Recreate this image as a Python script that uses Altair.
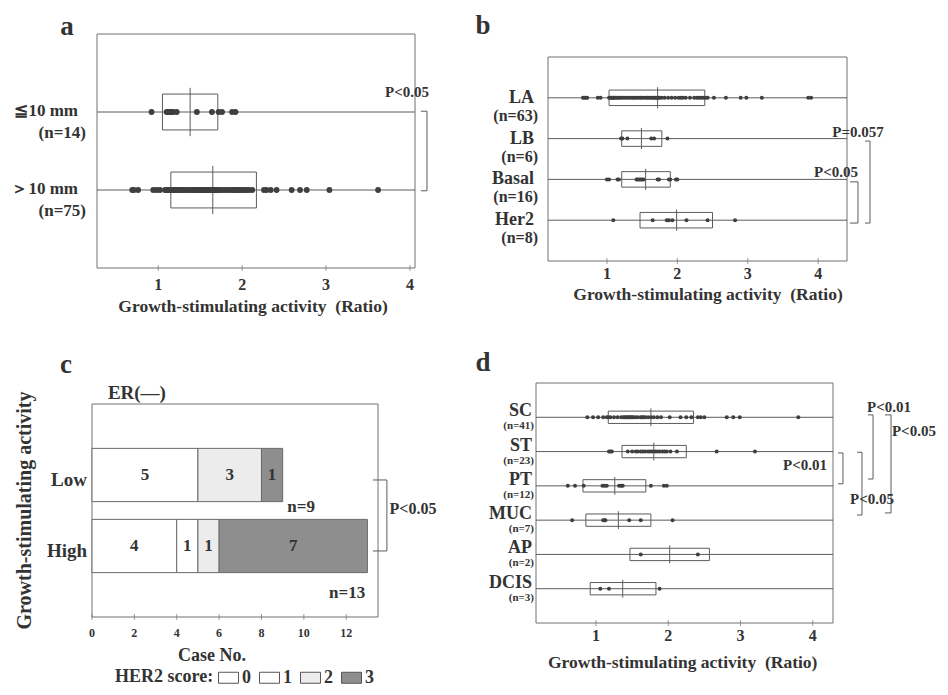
import altair as alt
import pandas as pd

W, H = 932, 679
SERIF = "Liberation Serif"
TXT = "#333333"
LINE = "#5c5c5c"
DOT = "#3f3f3f"
FRAME = "#707070"
XTITLE = "Growth-stimulating activity\u00a0 (Ratio)"

# ---------------- data: panel a ----------------
a_groups = ["≦10 mm", "＞10 mm"]
a_ns = ["(n=14)", "(n=75)"]
a_q1 = [1.05, 1.15]
a_med = [1.38, 1.65]
a_q3 = [1.71, 2.17]
a_small = [0.92, 1.10, 1.12, 1.13, 1.14, 1.16, 1.18, 1.22, 1.46, 1.64, 1.72, 1.76, 1.88, 1.92]
a_large = [0.69, 0.71, 0.76, 0.94, 0.98, 1.02, 1.08, 1.10, 1.11, 1.12, 1.13, 1.15, 1.17, 1.18,
           1.19, 1.20, 1.22, 1.24, 1.26, 1.28, 1.30, 1.31, 1.33, 1.36, 1.38, 1.40, 1.42, 1.44,
           1.46, 1.47, 1.48, 1.49, 1.50, 1.52, 1.54, 1.56, 1.57, 1.58, 1.60, 1.61, 1.63, 1.64,
           1.65, 1.66, 1.67, 1.68, 1.69, 1.70, 1.72, 1.74, 1.76, 1.79, 1.82, 1.85, 1.88, 1.90,
           1.92, 1.94, 1.96, 1.97, 1.99, 2.01, 2.03, 2.05, 2.08, 2.12, 2.26, 2.29, 2.34, 2.41,
           2.59, 2.69, 2.77, 3.04, 3.62]

# ---------------- data: panel b ----------------
b_groups = ["LA", "LB", "Basal", "Her2"]
b_ns = ["(n=63)", "(n=6)", "(n=16)", "(n=8)"]
b_q1 = [1.03, 1.21, 1.21, 1.47]
b_med = [1.72, 1.49, 1.55, 1.99]
b_q3 = [2.39, 1.78, 1.90, 2.50]
b_la = [0.66, 0.68, 0.70, 0.72, 0.87, 0.91,
        1.03, 1.05, 1.06, 1.08, 1.09, 1.10, 1.12, 1.14, 1.16, 1.18, 1.20, 1.23, 1.26, 1.29,
        1.32, 1.35, 1.37, 1.40, 1.42, 1.45, 1.48, 1.50, 1.53, 1.56, 1.58, 1.60, 1.63, 1.65,
        1.67, 1.69, 1.71, 1.73, 1.75, 1.78, 1.82, 1.87, 1.92, 1.97, 2.02, 2.05, 2.08, 2.12,
        2.18, 2.24, 2.28, 2.31, 2.34, 2.37, 2.40,
        2.43, 2.52, 2.69, 2.90, 2.98, 3.20, 3.86, 3.90]
b_lb = [1.20, 1.22, 1.29, 1.63, 1.67, 1.86]
b_basal = [1.00, 1.03, 1.15, 1.17, 1.42, 1.44, 1.46, 1.48, 1.50, 1.52, 1.72, 1.74, 1.88, 1.90, 1.98, 2.00]
b_her2 = [1.09, 1.65, 1.85, 1.88, 1.93, 2.13, 2.43, 2.82]

# ---------------- data: panel c ----------------
c_groups = ["Low", "High"]
c_scores = ["0", "1", "2", "3"]
c_low = [5, 0, 3, 1]
c_high = [4, 1, 1, 7]
c_totals = ["n=9", "n=13"]
c_colors = ["#ffffff", "#ffffff", "#ececec", "#8e8e8e"]

# ---------------- data: panel d ----------------
d_groups = ["SC", "ST", "PT", "MUC", "AP", "DCIS"]
d_ns = ["(n=41)", "(n=23)", "(n=12)", "(n=7)", "(n=2)", "(n=3)"]
d_q1 = [1.17, 1.36, 0.82, 0.86, 1.47, 0.92]
d_med = [1.76, 1.80, 1.26, 1.31, 2.02, 1.37]
d_q3 = [2.35, 2.25, 1.69, 1.76, 2.57, 1.83]
d_sc = [0.88, 0.96, 1.03, 1.10, 1.15, 1.17, 1.20, 1.25, 1.30, 1.35, 1.38, 1.40, 1.42, 1.44,
        1.45, 1.47, 1.49, 1.50, 1.52, 1.55, 1.58, 1.62, 1.64, 1.66, 1.68, 1.72, 1.76, 1.80,
        1.85, 1.90, 2.02, 2.17, 2.25, 2.32, 2.41, 2.45, 2.50, 2.81, 2.90, 2.99, 3.80]
d_st = [1.18, 1.20, 1.22, 1.44, 1.50, 1.55, 1.58, 1.62, 1.65, 1.68, 1.72, 1.75, 1.78, 1.82,
        1.85, 1.88, 1.92, 1.95, 1.98, 2.03, 2.12, 2.67, 3.20]
d_pt = [0.61, 0.71, 0.83, 1.09, 1.12, 1.15, 1.32, 1.35, 1.37, 1.76, 1.94, 1.98]
d_muc = [0.67, 1.10, 1.12, 1.13, 1.46, 1.62, 2.06]
d_ap = [1.62, 2.41]
d_dcis = [1.06, 1.18, 1.88]

ratio_ticks = [1, 2, 3, 4]
case_ticks = [0, 2, 4, 6, 8, 10, 12]

# ---------------- annotations (data coordinates) ----------------
a_brackets = pd.DataFrame({"xt": [4.131], "xv": [4.203], "y1": [0.99], "y2": [2.01]})
a_ptext = pd.DataFrame({"x": [3.965], "y": [0.74], "t": ["P<0.05"]})
b_brackets = pd.DataFrame({"xt": [4.666, 4.453], "xv": [4.737, 4.566],
                           "y1": [2.06, 3.06], "y2": [4.07, 4.07]})
b_ptext = pd.DataFrame({"x": [4.566, 4.254], "y": [1.84, 2.82], "t": ["P=0.057", "P<0.05"]})
c_brackets = pd.DataFrame({"xt": [13.26], "xv": [13.92], "y1": [1.07], "y2": [2.07]})
c_ptext = pd.DataFrame({"x": [15.15], "y": [1.48], "t": ["P<0.05"]})
c_ntext = pd.DataFrame({"x": [9.87, 12.04], "y": [1.45, 2.66], "t": c_totals})
d_brackets = pd.DataFrame({"xt": [4.349, 4.612, 4.764, 5.0], "xv": [4.418, 4.681, 4.834, 5.083],
                           "y1": [2.04, 2.02, 0.93, 0.93], "y2": [2.94, 3.85, 2.80, 3.79]})
d_ptext = pd.DataFrame({"x": [5.055, 5.40, 3.893, 4.82], "y": [0.70, 1.40, 2.39, 3.38],
                        "t": ["P<0.01", "P<0.05", "P<0.01", "P<0.05"]})

ONE = pd.DataFrame({"k": [0]})


def make_box_df(groups, ns, q1, med, q3):
    return pd.DataFrame({"row": list(range(1, len(groups) + 1)), "label": groups, "n": ns,
                         "q1": q1, "med": med, "q3": q3})


def make_pts_df(series):
    rows, vals = [], []
    for i, s in enumerate(series):
        rows += [i + 1] * len(s)
        vals += s
    return pd.DataFrame({"row": rows, "v": vals})


def frame_layer(xs, ys, xdom, ydom):
    return alt.Chart(ONE).mark_rect(fill="transparent", stroke=FRAME, strokeWidth=1).encode(
        x=alt.XDatum(xdom[0], scale=xs, axis=None), x2=alt.X2Datum(xdom[1]),
        y=alt.YDatum(ydom[0], scale=ys, axis=None), y2=alt.Y2Datum(ydom[1]))


def bottom_axis(xs, ys, ybottom, ticks, lab_size, lab_dy, title, title_x, title_size, title_dy):
    tdf = pd.DataFrame({"t": ticks})
    tk = alt.Chart(tdf).mark_tick(orient="vertical", size=6, thickness=1, color=FRAME).encode(
        x=alt.X("t:Q", scale=xs, axis=None), y=alt.YDatum(ybottom, scale=ys, axis=None))
    lb = alt.Chart(tdf).mark_text(font=SERIF, fontWeight="bold", fontSize=lab_size, color=TXT,
                                  align="center", baseline="middle", dy=lab_dy).encode(
        x=alt.X("t:Q", scale=xs, axis=None), y=alt.YDatum(ybottom, scale=ys, axis=None),
        text="t:Q")
    tt = alt.Chart(ONE).mark_text(text=title, font=SERIF, fontWeight="bold", fontSize=title_size,
                                  color=TXT, align="center", baseline="middle", dy=title_dy).encode(
        x=alt.XDatum(title_x, scale=xs, axis=None), y=alt.YDatum(ybottom, scale=ys, axis=None))
    return [tk, lb, tt]


def annotations(xs, ys, brackets, ptext, psize=15):
    br = alt.Chart(brackets)
    v = br.mark_rule(color=LINE, strokeWidth=1).encode(
        x=alt.X("xv:Q", scale=xs, axis=None), y=alt.Y("y1:Q", scale=ys, axis=None), y2="y2:Q")
    t1 = br.mark_rule(color=LINE, strokeWidth=1).encode(
        x=alt.X("xt:Q", scale=xs, axis=None), x2="xv:Q", y=alt.Y("y1:Q", scale=ys, axis=None))
    t2 = br.mark_rule(color=LINE, strokeWidth=1).encode(
        x=alt.X("xt:Q", scale=xs, axis=None), x2="xv:Q", y=alt.Y("y2:Q", scale=ys, axis=None))
    tx = alt.Chart(ptext).mark_text(font=SERIF, fontWeight="bold", fontSize=psize, color=TXT,
                                    align="center", baseline="middle").encode(
        x=alt.X("x:Q", scale=xs, axis=None), y=alt.Y("y:Q", scale=ys, axis=None), text="t:N")
    return [v, t1, t2, tx]


def box_panel(box_df, pts_df, xdom, xrng, ydom, yrng, box_h, med_h, dot_size,
              lab_font, lab_dx, lab_dy, n_font, n_dx, n_dy, brackets, ptext,
              tick_dy, title_x, title_dy):
    xs = alt.Scale(domain=xdom, range=xrng, nice=False, zero=False)
    ys = alt.Scale(domain=ydom, range=yrng, nice=False, zero=False)
    base = alt.Chart(box_df)
    frame = frame_layer(xs, ys, xdom, ydom)
    rows = base.mark_rule(color=LINE, strokeWidth=1).encode(
        x=alt.XDatum(xdom[0], scale=xs, axis=None), x2=alt.X2Datum(xdom[1]),
        y=alt.Y("row:Q", scale=ys, axis=None))
    boxes = base.transform_calculate(
        y0=f"datum.row - {box_h}", y1=f"datum.row + {box_h}"
    ).mark_rect(fill="transparent", stroke=LINE, strokeWidth=1).encode(
        x=alt.X("q1:Q", scale=xs, axis=None), x2="q3:Q",
        y=alt.Y("y0:Q", scale=ys, axis=None), y2="y1:Q")
    meds = base.transform_calculate(
        m0=f"datum.row - {med_h}", m1=f"datum.row + {med_h}"
    ).mark_rule(color=LINE, strokeWidth=1).encode(
        x=alt.X("med:Q", scale=xs, axis=None),
        y=alt.Y("m0:Q", scale=ys, axis=None), y2="m1:Q")
    pts = alt.Chart(pts_df).mark_circle(size=dot_size, color=DOT, opacity=1).encode(
        x=alt.X("v:Q", scale=xs, axis=None), y=alt.Y("row:Q", scale=ys, axis=None))
    labs = base.mark_text(align="right", baseline="middle", font=SERIF, fontWeight="bold",
                          fontSize=lab_font, color=TXT, dx=lab_dx, dy=lab_dy).encode(
        x=alt.XDatum(xdom[0], scale=xs, axis=None), y=alt.Y("row:Q", scale=ys, axis=None),
        text="label:N")
    nlabs = base.mark_text(align="right", baseline="middle", font=SERIF, fontWeight="bold",
                           fontSize=n_font, color=TXT, dx=n_dx, dy=n_dy).encode(
        x=alt.XDatum(xdom[0], scale=xs, axis=None), y=alt.Y("row:Q", scale=ys, axis=None),
        text="n:N")
    axis = bottom_axis(xs, ys, ydom[1], ratio_ticks, 16, tick_dy, XTITLE, title_x, 17.5, title_dy)
    layers = [frame, rows, boxes, meds, pts, labs, nlabs] + axis + \
        annotations(xs, ys, brackets, ptext)
    return alt.layer(*layers)


# ---------------- panel a ----------------
pa = box_panel(make_box_df(a_groups, a_ns, a_q1, a_med, a_q3), make_pts_df([a_small, a_large]),
               [0.27, 4.06], [89, 407], [0, 3], [26, 260],
               0.23, 0.31, 34, 17, -19, -1, 17, -11, 21, a_brackets, a_ptext,
               17, 2.13, 39)

# ---------------- panel b ----------------
pb = box_panel(make_box_df(b_groups, b_ns, b_q1, b_med, b_q3),
               make_pts_df([b_la, b_lb, b_basal, b_her2]),
               [0.163, 4.41], [540, 839], [0, 5], [49, 253],
               0.19, 0.26, 16, 18, -14, 0, 16, -10, 18, b_brackets, b_ptext,
               13, 2.436, 34)

# ---------------- panel d ----------------
pd_ = box_panel(make_box_df(d_groups, d_ns, d_q1, d_med, d_q3),
                make_pts_df([d_sc, d_st, d_pt, d_muc, d_ap, d_dcis]),
                [0.17, 4.28], [528, 825], [0, 7], [375, 615],
                0.18, 0.26, 16, 18, -4, -6, 11, -2, 9, d_brackets, d_ptext,
                13, 2.20, 40)

# ---------------- panel c ----------------
c_rows_l, c_groups_l, c_scores_l, c_counts_l = [], [], [], []
for i, (g, counts) in enumerate(zip(c_groups, [c_low, c_high])):
    for s, cnt in zip(c_scores, counts):
        if cnt > 0:
            c_rows_l.append(i + 1)
            c_groups_l.append(g)
            c_scores_l.append(s)
            c_counts_l.append(cnt)
c_df = pd.DataFrame({"row": c_rows_l, "group": c_groups_l, "score": c_scores_l, "count": c_counts_l})
c_lab_df = pd.DataFrame({"row": [1, 2], "label": c_groups})

c_xdom, c_ydom = [0, 13.5], [0, 3]
cxs = alt.Scale(domain=c_xdom, range=[84, 370], nice=False, zero=False)
cys = alt.Scale(domain=c_ydom, range=[396, 609], nice=False, zero=False)
BAR_H = 0.375

c_base = alt.Chart(c_df).transform_stack(
    stack="count", as_=["x0", "x1"], groupby=["group"], sort=[alt.SortField("score")]
).transform_calculate(
    y0=f"datum.row - {BAR_H}", y1=f"datum.row + {BAR_H}", xm="(datum.x0 + datum.x1) / 2"
)

c_legend = alt.Legend(title="HER2 score:", orient="none", legendX=107, legendY=659,
                      direction="horizontal", titleOrient="left", titleFont=SERIF,
                      titleFontSize=18, titleFontWeight="bold", titleColor=TXT, titlePadding=4,
                      labelFont=SERIF, labelFontSize=18, labelFontWeight="bold", labelColor=TXT,
                      labelOffset=3, symbolType="M-1,-0.55H1V0.55H-1Z", symbolSize=400,
                      symbolStrokeColor="#555555", symbolStrokeWidth=1, symbolOpacity=1,
                      columnPadding=6)

c_bars = c_base.mark_rect(stroke="#6a6a6a", strokeWidth=1).encode(
    x=alt.X("x0:Q", scale=cxs, axis=None), x2="x1:Q",
    y=alt.Y("y0:Q", scale=cys, axis=None), y2="y1:Q",
    fill=alt.Fill("score:N", scale=alt.Scale(domain=c_scores, range=c_colors), legend=c_legend))

c_nums = c_base.mark_text(font=SERIF, fontWeight="bold", fontSize=17, color=TXT,
                          align="center", baseline="middle").encode(
    x=alt.X("xm:Q", scale=cxs, axis=None), y=alt.Y("row:Q", scale=cys, axis=None),
    text="count:Q")

c_ntxt = alt.Chart(c_ntext).mark_text(font=SERIF, fontWeight="bold", fontSize=17, color=TXT,
                                      align="center", baseline="middle").encode(
    x=alt.X("x:Q", scale=cxs, axis=None), y=alt.Y("y:Q", scale=cys, axis=None), text="t:N")

c_ylabs = alt.Chart(c_lab_df).mark_text(font=SERIF, fontWeight="bold", fontSize=19, color=TXT,
                                        align="right", baseline="middle", dx=-5, dy=5).encode(
    x=alt.XDatum(0, scale=cxs, axis=None), y=alt.Y("row:Q", scale=cys, axis=None),
    text="label:N")

c_ytitle = alt.Chart(ONE).mark_text(text="Growth-stimulating activity", font=SERIF,
                                    fontWeight="bold", fontSize=20, color=TXT, angle=270,
                                    align="center", baseline="middle").encode(
    x=alt.XDatum(-3.16, scale=cxs, axis=None), y=alt.YDatum(1.5, scale=cys, axis=None))

c_er = alt.Chart(ONE).mark_text(text="ER(—)", font=SERIF, fontWeight="bold", fontSize=19,
                                color=TXT, align="center", baseline="middle").encode(
    x=alt.XDatum(2.12, scale=cxs, axis=None), y=alt.YDatum(-0.155, scale=cys, axis=None))

pc = alt.layer(frame_layer(cxs, cys, c_xdom, c_ydom), c_bars, c_nums, c_ntxt, c_ylabs,
               c_ytitle, c_er,
               *bottom_axis(cxs, cys, c_ydom[1], case_ticks, 12, 16, "Case No.", 5.66, 18, 39),
               *annotations(cxs, cys, c_brackets, c_ptext, 16))


# ---------------- panel letters ----------------
def letter(ch, px, py):
    return alt.Chart(ONE).mark_text(text=ch, font=SERIF, fontWeight="bold", fontSize=27,
                                    color=TXT, align="center", baseline="middle").encode(
        x=alt.value(px), y=alt.value(py))


chart = alt.layer(
    pa, pb, pc, pd_,
    letter("a", 59, 19), letter("b", 475, 18), letter("c", 58, 357), letter("d", 475, 355)
).resolve_scale(x="independent", y="independent").properties(
    width=W, height=H, padding=0, autosize=alt.AutoSizeParams(type="none"),
    background="white"
).configure_view(strokeWidth=0)

chart.save("out.html", embed_options={"renderer": "svg", "actions": False})
